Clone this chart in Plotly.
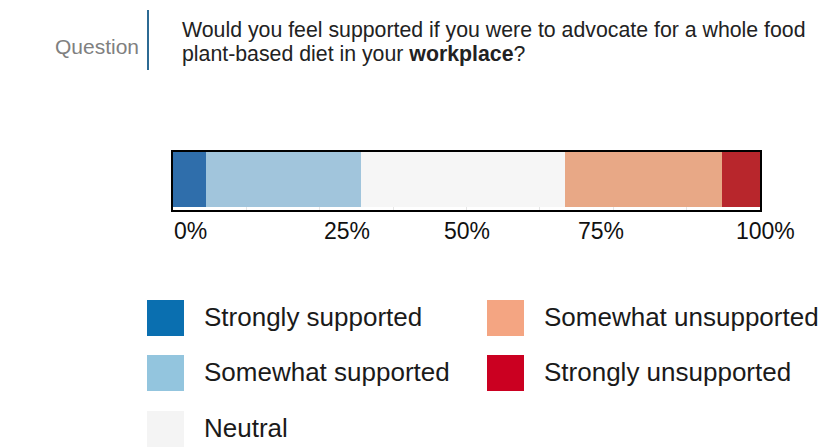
import plotly.graph_objects as go

# Survey responses (share of respondents, %)
categories = [
    "Strongly supported",
    "Somewhat supported",
    "Neutral",
    "Somewhat unsupported",
    "Strongly unsupported",
]
shares = [5.7, 26.3, 34.8, 26.7, 6.5]

bar_colors = ["#2f6eab", "#a1c5dc", "#f6f6f6", "#e8a886", "#b8262c"]
key_colors = ["#0a6fb0", "#93c5de", "#f4f4f4", "#f4a582", "#cb0021"]

tick_labels = ["0%", "25%", "50%", "75%", "100%"]

question_lines = [
    "Would you feel supported if you were to advocate for a whole food",
    "plant-based diet in your <b>workplace</b>?",
]

W, H = 833, 447
FONT = "Liberation Sans, Arial, sans-serif"


def px(x):
    return x / W


def py(y):
    return 1 - y / H


fig = go.Figure()
for name, val, col in zip(categories, shares, bar_colors):
    fig.add_trace(go.Bar(
        x=[val], y=[0], orientation="h", name=name,
        marker=dict(color=col, line=dict(width=0)),
        width=0.94, offset=-0.44, showlegend=False,
        hoverinfo="skip",
    ))

annotations = []
shapes = []

# header
annotations.append(dict(
    x=px(141), y=py(46), xref="paper", yref="paper", xanchor="right", yanchor="middle",
    text="Question", showarrow=False, font=dict(family=FONT, size=21, color="#808080"),
))
shapes.append(dict(
    type="line", xref="paper", yref="paper", x0=px(148), x1=px(148), y0=py(10), y1=py(70),
    line=dict(color="#2c6a93", width=2),
))
for i, line in enumerate(question_lines):
    annotations.append(dict(
        x=px(180), y=py(30 + 24 * i), xref="paper", yref="paper", xanchor="left", yanchor="middle",
        text=line, showarrow=False, font=dict(family=FONT, size=21.3, color="#222222"),
    ))

# percentage scale labels
tick_centers = [190, 347, 467, 601, 765]
for lab, cx in zip(tick_labels, tick_centers):
    annotations.append(dict(
        x=px(cx), y=py(231), xref="paper", yref="paper", xanchor="center", yanchor="middle",
        text=lab, showarrow=False, font=dict(family=FONT, size=23, color="#111111"),
    ))

# key
col_x = [(147, 202), (487, 542)]
row_y = [300, 355, 411]
slots = [(0, 0), (0, 1), (0, 2), (1, 0), (1, 1)]
for (c, r), name, col in zip(slots, categories, key_colors):
    sx, tx = col_x[c]
    top = row_y[r]
    shapes.append(dict(
        type="rect", xref="paper", yref="paper",
        x0=px(sx), x1=px(sx + 37), y0=py(top + 36), y1=py(top),
        fillcolor=col, line=dict(width=0),
    ))
    annotations.append(dict(
        x=px(tx), y=py(top + 17), xref="paper", yref="paper", xanchor="left", yanchor="middle",
        text=name, showarrow=False, font=dict(family=FONT, size=26, color="#1a1a1a"),
    ))

fig.update_layout(
    width=W, height=H, margin=dict(l=0, r=0, t=0, b=0),
    paper_bgcolor="white", plot_bgcolor="white",
    barmode="stack", bargap=0,
    annotations=annotations, shapes=shapes,
    xaxis=dict(
        domain=[px(173), px(760)], range=[0, 100],
        showgrid=True, gridcolor="#e6e6e6", gridwidth=1, dtick=12.5,
        showticklabels=False, ticks="", zeroline=False,
        showline=True, mirror=True, linecolor="black", linewidth=2,
    ),
    yaxis=dict(
        domain=[py(210), py(152)], range=[-0.5, 0.5],
        showgrid=False, showticklabels=False, ticks="", zeroline=False,
        showline=True, mirror=True, linecolor="black", linewidth=2,
    ),
)

fig.write_html("out.html")
